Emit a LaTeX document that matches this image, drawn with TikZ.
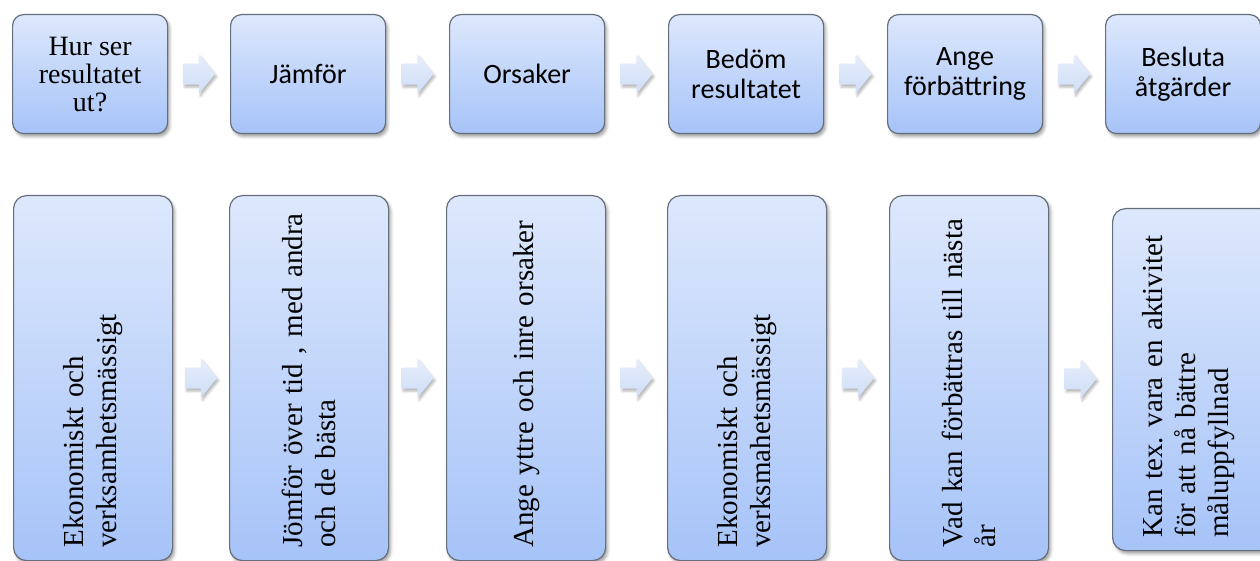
\documentclass[tikz,border=0pt]{standalone}
\usepackage{fontspec}
\setmainfont{Carlito}
\newfontfamily\timesfont{Liberation Serif}
\usetikzlibrary{calc,shadows.blur}
\frenchspacing

\definecolor{boxtop}{HTML}{DDE8FC}
\definecolor{boxbot}{HTML}{A6C3F8}
\definecolor{boxline}{HTML}{666E7C}
\definecolor{arrtop}{HTML}{E6EEFC}
\definecolor{arrbot}{HTML}{CFDDF6}

\tikzset{
  softshadow/.style={blur shadow={shadow xshift=2pt, shadow yshift=-3pt,
      shadow blur radius=3pt, shadow opacity=38}},
  stage/.style={rounded corners=11pt, draw=boxline, line width=1.2pt,
      top color=boxtop, bottom color=boxbot, softshadow,
      minimum width=155pt, minimum height=119pt, anchor=north west,
      inner sep=0pt, align=center, text=black,
      font=\fontsize{28}{30}\selectfont},
  detail/.style={rounded corners=13pt, draw=boxline, line width=1.2pt,
      top color=boxtop, bottom color=boxbot, softshadow,
      minimum width=159pt, minimum height=365pt, anchor=north west,
      inner sep=0pt},
  vtext/.style={rotate=90, align=left, inner sep=0pt, text=black,
      font=\timesfont\fontsize{29}{33}\selectfont},
  arrowfill/.style={top color=arrtop, bottom color=arrbot, draw=none,
      blur shadow={shadow xshift=1.5pt, shadow yshift=-2.5pt,
      shadow blur radius=2.5pt, shadow opacity=30}},
  flowarrow/.pic={\path[arrowfill] (-16,-10.5) -- (0,-10.5) -- (0,-19.5)
      -- (16,0) -- (0,19.5) -- (0,10.5) -- (-16,10.5) -- cycle;}
}

\begin{document}
\begin{tikzpicture}[x=1pt,y=-1pt]
\useasboundingbox (0,0) rectangle (1260,561);
\clip (0,0) rectangle (1260,561);

% upper row: the six stages
\node[stage, font=\timesfont\fontsize{28}{28}\selectfont] (t1) at (12,14)
  {Hur ser\\resultatet\\ut?};
\node[stage] (t2) at (230,14) {Jämför};
\node[stage] (t3) at (449,14) {Orsaker};
\node[stage] (t4) at (668,14) {Bedöm\\resultatet};
\node[stage] (t5) at (887,14) {Ange\\förbättring};
\node[stage] (t6) at (1105,14) {Besluta\\åtgärder};

% lower row: what each stage means
\node[detail] (b1) at (13,195) {};
\node[detail] (b2) at (229,195) {};
\node[detail] (b3) at (446,195) {};
\node[detail] (b4) at (667,195) {};
\node[detail] (b5) at (889,195) {};
\node[detail, minimum width=160pt, minimum height=342pt] (b6) at (1112,208) {};

\node[vtext, text width=339pt] (d1) at (b1.center)
  {Ekonomiskt och\\verksamhetsmässigt};
\node[vtext, text width=339pt] (d2) at (b2.center)
  {Jömför över tid , med andra\\och de bästa};
\node[vtext, text width=339pt] (d3) at (b3.center)
  {Ange yttre och inre orsaker};
\node[vtext, text width=339pt] (d4) at (b4.center)
  {Ekonomiskt och\\verksmahetsmässigt};
\node[vtext, text width=339pt] (d5) at (b5.center)
  {Vad kan förbättras till nästa\\år};
\node[vtext, text width=316pt] (d6) at ([xshift=-4pt]b6.center)
  {Kan tex. vara en aktivitet\\för att nå bättre\\måluppfyllnad};

% block arrows between neighbouring boxes
\foreach \a/\b in {t1/t2,t2/t3,t3/t4,t4/t5,t5/t6,b1/b2,b2/b3,b3/b4,b4/b5,b5/b6}
  \pic at ($(\a.east)!0.5!(\b.west)$) {flowarrow};
\end{tikzpicture}
\end{document}
